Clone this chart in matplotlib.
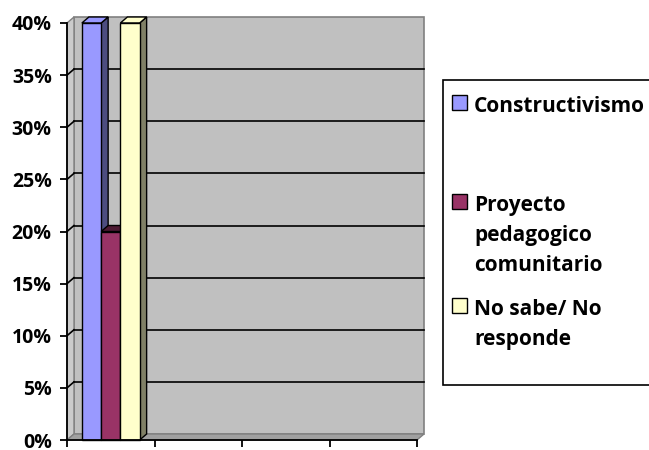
import matplotlib
matplotlib.use('Agg')
import matplotlib.pyplot as plt
from matplotlib.patches import Rectangle, Polygon

plt.rcParams['font.family'] = ['Open Sans', 'DejaVu Sans']
plt.rcParams['font.weight'] = 'bold'

# data
series = ['Constructivismo', 'Proyecto\npedagogico\ncomunitario', 'No sabe/ No\nresponde']
values = [0.40, 0.20, 0.40]
colors = ['#9999FF', '#993366', '#FFFFCC']
side_colors = ['#4D4D80', '#4D1A33', '#808066']
n_categories = 4
yticks = [0, 0.05, 0.10, 0.15, 0.20, 0.25, 0.30, 0.35, 0.40]
ytick_labels = ['0%', '5%', '10%', '15%', '20%', '25%', '30%', '35%', '40%']

W, H = 649, 450
fig = plt.figure(figsize=(W / 100, H / 100), dpi=100)
ax_l, ax_r, ax_b, ax_t = 67, 417, 440, 23
ax = fig.add_axes([ax_l / W, (H - ax_b) / H, (ax_r - ax_l) / W, (ax_b - ax_t) / H])
ax.set_xlim(0, n_categories)
ax.set_ylim(0, 0.40)

# depth offset (px -> data)
ddx = 7 / (ax_r - ax_l) * n_categories
ddy = 6 / (ax_b - ax_t) * 0.40
top = yticks[-1]

# walls
ax.add_patch(Polygon([(ddx, ddy), (n_categories + ddx, ddy), (n_categories + ddx, top + ddy), (ddx, top + ddy)],
                     closed=True, fc='#C0C0C0', ec='#808080', lw=1.2, clip_on=False, zorder=1))
ax.add_patch(Polygon([(0, 0), (ddx, ddy), (ddx, top + ddy), (0, top)],
                     closed=True, fc='#CBCBCB', ec='#808080', lw=1.0, clip_on=False, zorder=1))
ax.add_patch(Polygon([(0, 0), (n_categories, 0), (n_categories + ddx, ddy), (ddx, ddy)],
                     closed=True, fc='#A0A0A0', ec='#808080', lw=1.0, clip_on=False, zorder=1))

# gridlines on back wall and side wall
for y in yticks[1:-1]:
    ax.plot([ddx, n_categories + ddx], [y + ddy, y + ddy], color='black', lw=1.2, zorder=2, clip_on=False)
    ax.plot([0, ddx], [y, y + ddy], color='black', lw=1.2, zorder=2, clip_on=False)

# bars
bw = 0.22
x0 = 0.17
for i, (v, c, sc) in enumerate(zip(values, colors, side_colors)):
    x = x0 + i * bw
    ax.add_patch(Polygon([(x + bw, 0), (x + bw + ddx, ddy), (x + bw + ddx, v + ddy), (x + bw, v)],
                         closed=True, fc=sc, ec='black', lw=1.0, zorder=3 + i, clip_on=False))
    ax.add_patch(Polygon([(x, v), (x + ddx, v + ddy), (x + bw + ddx, v + ddy), (x + bw, v)],
                         closed=True, fc=sc if i == 1 else c, ec='black', lw=1.0, zorder=3 + i, clip_on=False))
    ax.add_patch(Rectangle((x, 0), bw, v, fc=c, ec='black', lw=1.0, zorder=3 + i, clip_on=False))

# axes
for s in ['top', 'right']:
    ax.spines[s].set_visible(False)
for s in ['left', 'bottom']:
    ax.spines[s].set_linewidth(1.3)
    ax.spines[s].set_zorder(10)
ax.set_yticks(yticks)
ax.set_yticklabels(ytick_labels, fontsize=14, fontweight='bold')
ax.set_xticks(range(n_categories + 1))
ax.set_xticklabels([])
ax.tick_params(axis='both', direction='out', length=5, width=1.3, pad=6)
ax.patch.set_visible(False)

# legend box
lx0, ly0, lx1, ly1 = 443, 80, 660, 385
fig.patches.append(Rectangle((lx0 / W, 1 - ly1 / H), (lx1 - lx0) / W, (ly1 - ly0) / H,
                             transform=fig.transFigure, fc='white', ec='black', lw=1.2))
entry_y = [103, 202, 306]
for name, c, ey in zip(series, colors, entry_y):
    fig.patches.append(Rectangle((452 / W, 1 - (ey + 7) / H), 15 / W, 15 / H,
                                 transform=fig.transFigure, fc=c, ec='black', lw=1.0))
    fig.text(474 / W, 1 - (ey - 7) / H, name, fontsize=15, fontweight='bold',
             va='top', ha='left', linespacing=1.55)

fig.savefig('out.png', dpi=100)
